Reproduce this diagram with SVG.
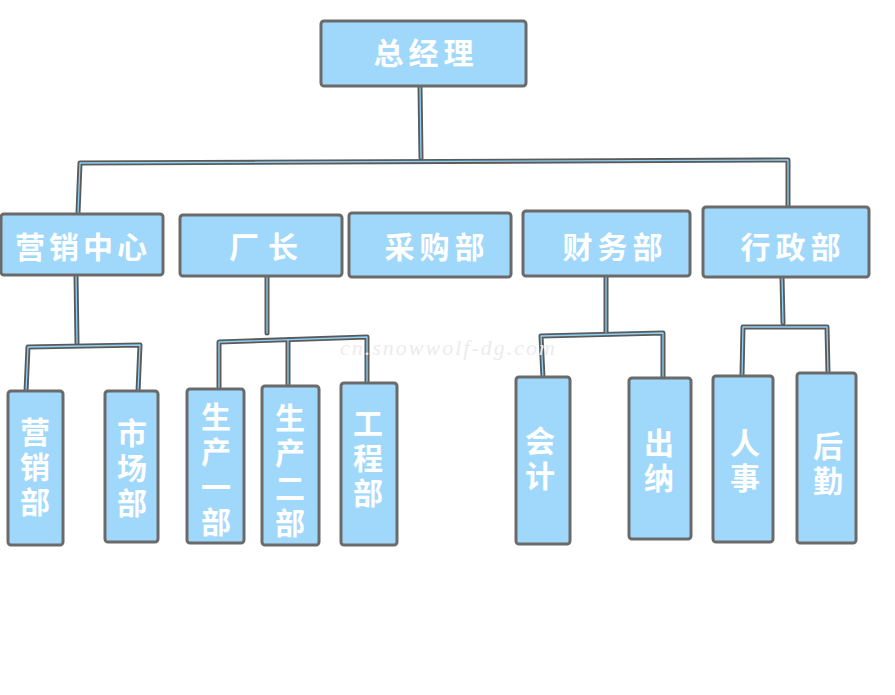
<svg xmlns="http://www.w3.org/2000/svg" width="895" height="695" viewBox="0 0 895 695">
<style>
.box{fill:#a0d8fb;stroke:#6a6a6a;stroke-width:3}
.t{fill:#ffffff;font-family:"Noto Sans CJK SC","Noto Sans",sans-serif;font-size:30px;font-weight:bold;text-anchor:middle;dominant-baseline:central}
.v{fill:#ffffff;font-family:"Noto Sans CJK SC","Noto Sans",sans-serif;font-size:30px;font-weight:bold;text-anchor:middle;writing-mode:vertical-rl;letter-spacing:5px}
.co{fill:none;stroke:#5a5a5a;stroke-width:5;stroke-linecap:round;stroke-linejoin:round}
.ci{fill:none;stroke:#8fd0f5;stroke-width:1.3;stroke-linecap:round;stroke-linejoin:round}
.wm{fill:#ececec;font-family:"Liberation Serif",serif;font-style:italic;font-size:22px;letter-spacing:2px}
</style>
<rect width="895" height="695" fill="#ffffff"/>
<defs>
<g id="links">
<path d="M420,86 L421,158"/>
<path d="M78,213 L80,163 L788,160 L788,207"/>
<path d="M76,275 L77,343"/>
<path d="M26,392 L28,347 L140,345 L138,392"/>
<path d="M267,276 L267,333"/>
<path d="M219,388 L219,342 L367,337 L367,384"/>
<path d="M288,340 L288,387"/>
<path d="M606,277 L606,332"/>
<path d="M543,378 L541,336 L663,333 L663,378"/>
<path d="M782,277 L783,323"/>
<path d="M742,376 L743,327 L827,327 L828,373"/>
</g>
</defs>
<g id="connectors">
<use href="#links" class="co"/>
<use href="#links" class="ci"/>
</g>
<text class="wm" x="340" y="355">cn.snowwolf-dg.com</text>
<g id="n-zjl"><rect class="box" x="321" y="21" width="205" height="65" rx="3"/><text class="t" x="426" y="51" letter-spacing="5">总经理</text></g>
<g id="n-yxzx"><rect class="box" x="1" y="214" width="162" height="61" rx="3"/><text class="t" x="83" y="245" letter-spacing="4">营销中心</text></g>
<g id="n-cz"><rect class="box" x="180" y="215" width="162" height="61" rx="3"/><text class="t" x="268" y="245" letter-spacing="9">厂长</text></g>
<g id="n-cgb"><rect class="box" x="349" y="213" width="162" height="64" rx="3"/><text class="t" x="437" y="245" letter-spacing="5">采购部</text></g>
<g id="n-cwb"><rect class="box" x="523" y="211" width="167" height="65" rx="3"/><text class="t" x="615" y="245" letter-spacing="5">财务部</text></g>
<g id="n-xzb"><rect class="box" x="703" y="207" width="166" height="70" rx="3"/><text class="t" x="793" y="245" letter-spacing="5">行政部</text></g>
<g id="n-yxb"><rect class="box" x="8" y="391" width="55" height="154" rx="3"/><text class="v" x="35" y="469">营销部</text></g>
<g id="n-scb"><rect class="box" x="105" y="391" width="53" height="151" rx="3"/><text class="v" x="132" y="470">市场部</text></g>
<g id="n-sc1"><rect class="box" x="187" y="389" width="57" height="154" rx="3"/><text class="v" x="216" y="472" letter-spacing="6">生产一部</text></g>
<g id="n-sc2"><rect class="box" x="262" y="386" width="57" height="159" rx="3"/><text class="v" x="290" y="473" letter-spacing="5">生产二部</text></g>
<g id="n-gcb"><rect class="box" x="341" y="383" width="56" height="162" rx="3"/><text class="v" x="368" y="460" letter-spacing="6">工程部</text></g>
<g id="n-kj"><rect class="box" x="516" y="377" width="54" height="167" rx="3"/><text class="v" x="540" y="461" letter-spacing="6">会计</text></g>
<g id="n-cn"><rect class="box" x="629" y="378" width="62" height="161" rx="3"/><text class="v" x="659" y="463" letter-spacing="3">出纳</text></g>
<g id="n-rs"><rect class="box" x="713" y="376" width="60" height="166" rx="3"/><text class="v" x="745" y="463" letter-spacing="6">人事</text></g>
<g id="n-hq"><rect class="box" x="797" y="373" width="59" height="170" rx="3"/><text class="v" x="828" y="466" letter-spacing="4">后勤</text></g>
</svg>
